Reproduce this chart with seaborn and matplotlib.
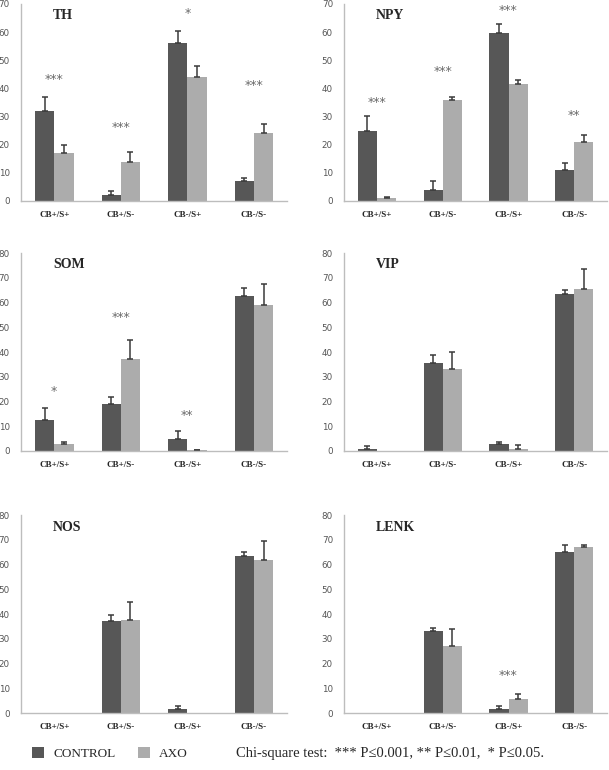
import numpy as np
import pandas as pd
import seaborn as sns
import matplotlib.pyplot as plt
from matplotlib.patches import Patch

# Categories
groups = ["CB+/S+", "CB+/S-", "CB-/S+", "CB-/S-"]
series = ["CONTROL", "AXO"]

# Values (mean, upper error), per marker
th_control = [32, 2, 56, 7]
th_control_err = [5, 1.5, 4.5, 1]
th_axo = [17, 14, 44, 24]
th_axo_err = [3, 3.5, 4, 3.5]
th_stars = ["***", "***", "*", "***"]
th_star_y = [43, 26, 66.5, 41]

npy_control = [25, 4, 59.5, 11]
npy_control_err = [5, 3, 3.5, 2.5]
npy_axo = [1.2, 36, 41.5, 21]
npy_axo_err = [0.3, 1, 1.5, 2.5]
npy_stars = ["***", "***", "***", "**"]
npy_star_y = [35, 46, 67.5, 30.5]

som_control = [12.5, 19, 5, 62.5]
som_control_err = [5, 3, 3, 3.5]
som_axo = [3, 37, 0.3, 59]
som_axo_err = [0.5, 8, 0.2, 8.5]
som_stars = ["*", "***", "**", ""]
som_star_y = [24, 54, 14.5, 0]

vip_control = [1, 35.5, 3, 63.5]
vip_control_err = [1, 3.5, 0.8, 1.5]
vip_axo = [0, 33, 1, 65.5]
vip_axo_err = [0, 7, 1.3, 8]
vip_stars = ["", "", "", ""]
vip_star_y = [0, 0, 0, 0]

nos_control = [0, 37, 1.5, 63.5]
nos_control_err = [0, 2.5, 1.5, 1.5]
nos_axo = [0, 37.5, 0, 62]
nos_axo_err = [0, 7.5, 0, 7.5]
nos_stars = ["", "", "", ""]
nos_star_y = [0, 0, 0, 0]

lenk_control = [0, 33, 1.5, 65]
lenk_control_err = [0, 1.5, 1.5, 3]
lenk_axo = [0, 27, 5.5, 67]
lenk_axo_err = [0, 7, 2, 1]
lenk_stars = ["", "", "***", ""]
lenk_star_y = [0, 0, 15, 0]

panels = [
    ("TH", th_control, th_control_err, th_axo, th_axo_err, th_stars, th_star_y, 70),
    ("NPY", npy_control, npy_control_err, npy_axo, npy_axo_err, npy_stars, npy_star_y, 70),
    ("SOM", som_control, som_control_err, som_axo, som_axo_err, som_stars, som_star_y, 80),
    ("VIP", vip_control, vip_control_err, vip_axo, vip_axo_err, vip_stars, vip_star_y, 80),
    ("NOS", nos_control, nos_control_err, nos_axo, nos_axo_err, nos_stars, nos_star_y, 80),
    ("LENK", lenk_control, lenk_control_err, lenk_axo, lenk_axo_err, lenk_stars, lenk_star_y, 80),
]

colors = {"CONTROL": "#575757", "AXO": "#acacac"}

sns.set_style("white")
plt.rcParams['font.family'] = ['DejaVu Sans']

fig = plt.figure(figsize=(6.09, 7.70), dpi=100)

# axes rectangles (left, bottom, width, height) in figure fraction
col_x = [(0.0345, 0.437), (0.565, 0.432)]
row_y = [(0.739, 0.256), (0.4143, 0.257), (0.074, 0.257)]

for i, (name, ctrl, ctrl_err, axo, axo_err, stars, star_y, ymax) in enumerate(panels):
    r, c = divmod(i, 2)
    ax = fig.add_axes([col_x[c][0], row_y[r][0], col_x[c][1], row_y[r][1]])

    df = pd.DataFrame({
        "group": groups * 2,
        "condition": ["CONTROL"] * 4 + ["AXO"] * 4,
        "value": ctrl + axo,
        "err": ctrl_err + axo_err,
    })

    sns.barplot(data=df, x="group", y="value", hue="condition", hue_order=series,
                order=groups, palette=colors, width=0.58, errorbar=None,
                saturation=1, legend=False, linewidth=0, ax=ax)

    # upward error bars on each bar
    for patch, (_, row) in zip(ax.patches, df.iterrows()):
        if row["err"] <= 0:
            continue
        xc = patch.get_x() + patch.get_width() / 2
        ax.errorbar(xc, row["value"], yerr=[[0], [row["err"]]], fmt="none",
                    ecolor="#3a3a3a", elinewidth=1.1, capsize=2.2, capthick=1.1)

    # significance stars
    for j, s in enumerate(stars):
        if s:
            ax.text(j, star_y[j], s, ha="center", va="center", fontsize=9,
                    color="#6a6a6a")

    ax.text(0.12, 0.94, name, transform=ax.transAxes, ha="left", va="center",
            fontsize=10, fontweight="bold", family="Liberation Serif")

    ax.set_ylim(0, ymax)
    ax.set_xlim(-0.5, 3.5)
    ax.set_yticks(np.arange(0, ymax + 1, 10))
    ax.set_xlabel("")
    ax.set_ylabel("")
    ax.tick_params(axis="y", labelsize=6.3, colors="#555555", length=0, pad=8)
    ax.tick_params(axis="x", length=0, pad=7)
    for lbl in ax.get_xticklabels():
        lbl.set_family("Liberation Serif")
        lbl.set_fontsize(6.5)
        lbl.set_fontweight("bold")
    sns.despine(ax=ax)
    for side in ["left", "bottom"]:
        ax.spines[side].set_color("#bdbdbd")
        ax.spines[side].set_linewidth(1)

# legend
handles = [Patch(facecolor=colors[s], edgecolor="none") for s in series]
fig.legend(handles, series, ncol=2, loc="center left", bbox_to_anchor=(0.033, 0.021),
           frameon=False, handlelength=0.9, handleheight=0.9, handletextpad=0.7,
           columnspacing=1.7, prop={"family": "Liberation Serif", "size": 9.5})

fig.text(0.388, 0.021, "Chi-square test:  *** P\u22640.001, ** P\u22640.01,  * P\u22640.05.",
         ha="left", va="center", fontsize=10.5, family="Liberation Serif")

plt.savefig("out.png", dpi=100)
